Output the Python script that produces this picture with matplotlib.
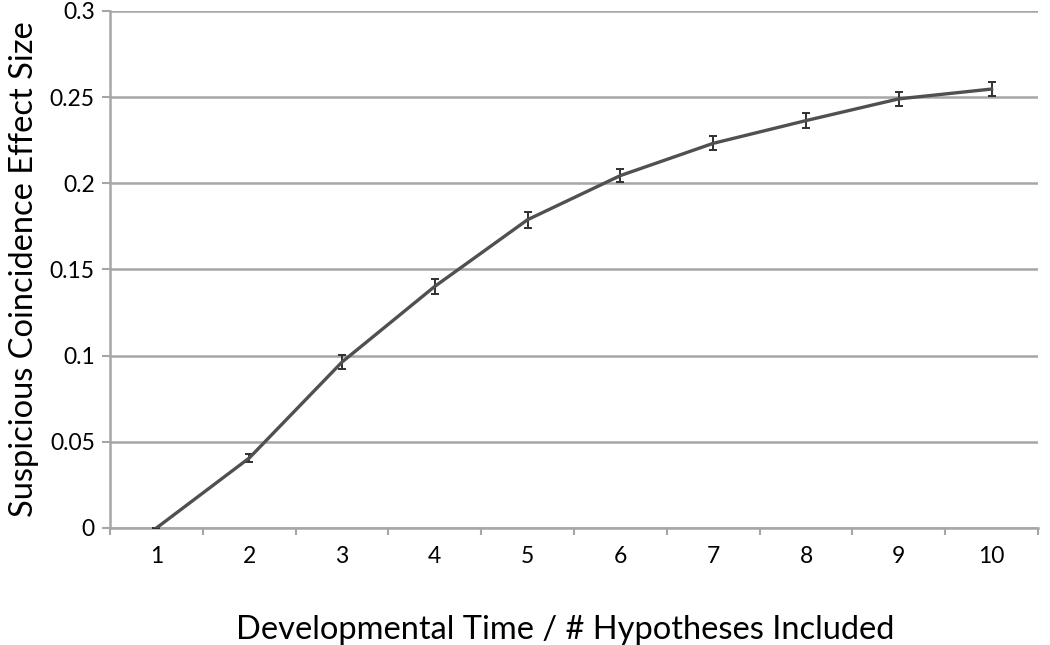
import numpy as np
import matplotlib.pyplot as plt

plt.rcParams['font.family'] = ['Lato', 'DejaVu Sans']

# data
steps = [1, 2, 3, 4, 5, 6, 7, 8, 9, 10]
effect = [0.0, 0.0406, 0.0963, 0.1402, 0.1789, 0.2045, 0.2232, 0.2364, 0.249, 0.2547]
err = [0.0, 0.0022, 0.0038, 0.0042, 0.0046, 0.0040, 0.0040, 0.0042, 0.0040, 0.0039]
yticks = [0, 0.05, 0.1, 0.15, 0.2, 0.25, 0.3]
ylabels = ['0', '0.05', '0.1', '0.15', '0.2', '0.25', '0.3']

fig = plt.figure(figsize=(10.5, 6.45), dpi=100)
ax = fig.add_axes([0.1048, 0.1814, 0.8838, 0.8016])

grid_c = '#a6a6a6'
ax.set_yticks(yticks)
ax.set_yticklabels(ylabels, fontsize=16.5)
ax.yaxis.grid(True, color=grid_c, linewidth=1.8)
ax.set_axisbelow(True)

ax.errorbar(steps, effect, yerr=err, color='#505050', linewidth=2.4,
            elinewidth=1.4, capsize=3, capthick=1.4, ecolor='#303030', zorder=3)

ax.set_xlim(0.5, 10.5)
ax.set_ylim(0, 0.3)
ax.set_xticks(steps)
ax.set_xticklabels([str(s) for s in steps], fontsize=16.5)
ax.set_xticks(np.arange(0.5, 11, 1), minor=True)
ax.tick_params(axis='x', which='major', length=0, pad=13)
ax.tick_params(axis='x', which='minor', length=5, color=grid_c, width=1.5)
ax.tick_params(axis='y', length=6, color=grid_c, width=1.5, pad=5)

for s in ['top', 'right']:
    ax.spines[s].set_visible(False)
for s in ['left', 'bottom']:
    ax.spines[s].set_color(grid_c)
    ax.spines[s].set_linewidth(1.8)

ax.set_ylabel('Suspicious Coincidence Effect Size', fontsize=23.5, labelpad=8)
ax.set_xlabel('Developmental Time / # Hypotheses Included', fontsize=23.5)
ax.xaxis.set_label_coords(0.49, -0.168)

fig.savefig('out.png', dpi=100)
